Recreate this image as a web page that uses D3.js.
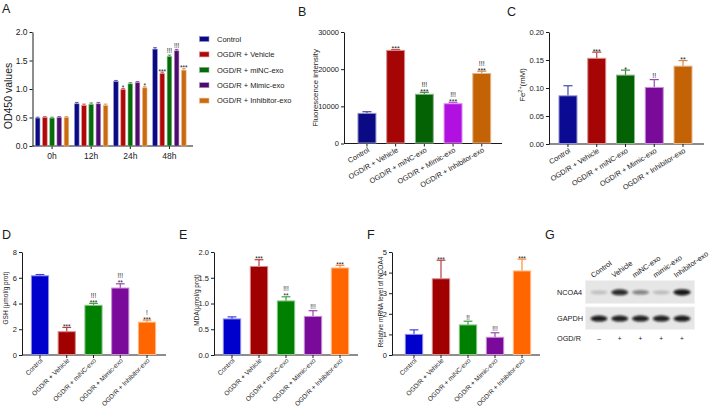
<!DOCTYPE html>
<html><head><meta charset="utf-8">
<script src="https://cdn.jsdelivr.net/npm/d3@7"></script>
<style>
body{margin:0;background:#fff}
svg{display:block}
text{font-family:"Liberation Sans",Arial,Helvetica,sans-serif;fill:#1a1a1a}
</style>
</head><body>
<svg id="c" width="719" height="414"></svg>
<script>
// ---------- DATA ----------
const groups = ["Control","OGD/R + Vehicle","OGD/R + miNC-exo","OGD/R + Mimic-exo","OGD/R + Inhibitor-exo"];
const timepoints = ["0h","12h","24h","48h"];

// Panel A: OD450 values (one array per group, across timepoints)
const odControl = [0.49, 0.74, 1.13, 1.70];
const odVehicle = [0.50, 0.71, 0.99, 1.27];
const odMiNC    = [0.49, 0.73, 1.09, 1.57];
const odMimic   = [0.50, 0.74, 1.11, 1.67];
const odInhib   = [0.50, 0.71, 1.02, 1.33];
const odErr     = [0.015, 0.025, 0.02, 0.025];
const odStars   = [["","","",""],["","","*","***"],["","","",""],["","","",""],["","","*","***"]];
const odExcl    = [["","","",""],["","","",""],["","","","!!!"],["","","","!!!"],["","","",""]];
const aTicks = [0, 0.5, 1.0, 1.5, 2.0];

// Panel B: fluorescence intensity
const fluorMean = [8100, 25050, 13250, 10700, 18850];
const fluorErr  = [450, 200, 520, 370, 600];
const fluorStars = ["", "***", "***", "***", "***"];
const fluorExcl  = ["", "", "!!!", "!!!", "!!!"];
const bTicks = [0, 10000, 20000, 30000];

// Panel C: Fe2+ (mM)
const feMean = [0.086, 0.153, 0.123, 0.101, 0.139];
const feErr  = [0.018, 0.011, 0.009, 0.014, 0.010];
const feStars = ["", "***", "*", "", "**"];
const feExcl  = ["", "", "", "!!", ""];
const cTicks = [0, 0.05, 0.10, 0.15, 0.20];

// Panel D: GSH
const gshMean = [6.15, 1.81, 3.86, 5.2, 2.55];
const gshErr  = [0.1, 0.33, 0.15, 0.33, 0.16];
const gshStars = ["", "***", "***", "**", "***"];
const gshExcl  = ["", "", "!!!", "!!!", "!"];
const dTicks = [0, 2, 4, 6, 8];

// Panel E: MDA
const mdaMean = [0.70, 1.72, 1.05, 0.75, 1.69];
const mdaErr  = [0.04, 0.13, 0.08, 0.11, 0.05];
const mdaStars = ["", "***", "**", "", "***"];
const mdaExcl  = ["", "", "!!!", "!!!", ""];
const eTicks = [0, 0.5, 1.0, 1.5, 2.0];

// Panel F: NCOA4 mRNA
const ncoaMean = [1.0, 3.7, 1.46, 0.86, 4.08];
const ncoaErr  = [0.22, 0.9, 0.18, 0.22, 0.57];
const ncoaStars = ["", "***", "", "", "***"];
const ncoaExcl  = ["", "", "!!", "!!!", ""];
const fTicks = [0, 1, 2, 3, 4, 5];

// Panel G: western blot
const blotLanes = ["Control", "Vehicle", "miNC-exo", "mimic-exo", "Inhibitor-exo"];
const blotOGDR  = ["–", "+", "+", "+", "+"];
const ncoa4Band = [0.18, 0.85, 0.45, 0.2, 0.95];
const gapdhBand = [0.92, 0.9, 0.9, 0.9, 0.92];

// colours
const colA = ["#0a0a85", "#b00808", "#046a0a", "#4e0a6e", "#cc6a10"];
const colB = ["#0a0a85", "#a50505", "#046204", "#b010e0", "#c46206"];
const colC = ["#0a0a92", "#a50505", "#046204", "#7a0a9a", "#c46206"];
const colD = ["#0000cc", "#a00000", "#008000", "#7a0a9a", "#ff6600"];

// ---------- DRAW ----------
const svg = d3.select("#c");
const light = (c, t) => d3.interpolateRgb(c, "#ffffff")(t);
const axisCol = "#1a1a1a";

function letter(t, x, y) {
  svg.append("text").attr("x", x).attr("y", y).attr("font-size", 12.5).text(t);
}

function styleAxis(g, fs) {
  g.select(".domain").attr("stroke", axisCol).attr("stroke-width", 1);
  g.selectAll(".tick line").attr("stroke", axisCol);
  g.selectAll(".tick text").attr("font-size", fs).attr("fill", axisCol)
    .attr("font-family", '"Liberation Sans",Arial,sans-serif');
}

function annot(g, cx, top, star, excl, fs) {
  if (star) g.append("text").attr("x", cx).attr("y", top + 1.6).attr("text-anchor", "middle")
    .attr("font-size", fs).text(star);
  if (excl) g.append("text").attr("x", cx).attr("y", top - (star ? 5.5 : 1.6)).attr("text-anchor", "middle")
    .attr("font-size", fs).text(excl);
}

function barPanel(o) {
  const g = svg.append("g");
  const y = d3.scaleLinear().domain([0, o.max]).range([o.yb, o.yt]);
  const x = d3.scaleBand().domain(groups).range([o.bx0, o.bx1])
    .paddingInner(o.pad).paddingOuter(o.pad / 2);
  const bw = x.bandwidth();
  const ya = g.append("g").attr("transform", `translate(${o.ax},0)`)
    .call(d3.axisLeft(y).tickValues(o.ticks).tickSize(3).tickSizeOuter(0).tickPadding(2).tickFormat(o.fmt));
  styleAxis(ya, o.tfs);
  g.append("line").attr("x1", o.ax).attr("x2", o.xe).attr("y1", o.yb).attr("y2", o.yb)
    .attr("stroke", axisCol).attr("stroke-width", 1);
  groups.forEach((k, i) => {
    const cx = x(k) + bw / 2;
    g.append("line").attr("x1", cx).attr("x2", cx).attr("y1", o.yb).attr("y2", o.yb + 3)
      .attr("stroke", axisCol);
    g.append("text").attr("text-anchor", "end").attr("font-size", o.cfs)
      .attr("transform", `translate(${cx + o.lx},${o.yb + o.ly}) rotate(${o.angle})`)
      .text(k);
    const v = o.mean[i], e = o.err[i], c = o.col[i];
    const ec = light(c, 0.25);
    g.append("line").attr("x1", cx).attr("x2", cx).attr("y1", y(v)).attr("y2", y(v + e))
      .attr("stroke", ec).attr("stroke-width", 1.2);
    g.append("line").attr("x1", cx - bw * 0.24).attr("x2", cx + bw * 0.24)
      .attr("y1", y(v + e)).attr("y2", y(v + e)).attr("stroke", ec).attr("stroke-width", 1.2);
    g.append("rect").attr("x", x(k) + 0.5).attr("y", y(v)).attr("width", bw - 1)
      .attr("height", o.yb - y(v) - 0.5).attr("fill", c)
      .attr("stroke", light(c, 0.55)).attr("stroke-width", 1);
    annot(g, cx, y(v + e), o.stars[i], o.excl[i], o.sfs);
  });
  const yl = g.append("text").attr("text-anchor", "middle").attr("font-size", o.yfs)
    .attr("transform", `translate(${o.ylx},${o.yly}) rotate(-90)`);
  if (o.ylabelFn) o.ylabelFn(yl); else yl.text(o.ylabel);
}

// ----- Panel A -----
(function () {
  const series = [odControl, odVehicle, odMiNC, odMimic, odInhib];
  const g = svg.append("g");
  const yb = 146, yt = 32, ax = 32.5;
  const y = d3.scaleLinear().domain([0, 2]).range([yb, yt]);
  const x0 = d3.scaleBand().domain(timepoints).range([32.5, 189]);
  const x1 = d3.scaleBand().domain(groups).range([0, x0.bandwidth() * 0.92]).paddingInner(0.36).paddingOuter(0.18);
  const off = x0.bandwidth() * 0.04;
  const ya = g.append("g").attr("transform", `translate(${ax},0)`)
    .call(d3.axisLeft(y).tickValues(aTicks).tickSize(3).tickSizeOuter(0).tickPadding(2).tickFormat(d3.format(".1f")));
  styleAxis(ya, 8.5);
  g.append("line").attr("x1", ax).attr("x2", 193).attr("y1", yb).attr("y2", yb).attr("stroke", axisCol);
  timepoints.forEach((t, j) => {
    const cx = x0(t) + x0.bandwidth() / 2;
    g.append("line").attr("x1", cx).attr("x2", cx).attr("y1", yb).attr("y2", yb + 3).attr("stroke", axisCol);
    g.append("text").attr("x", cx).attr("y", yb + 13).attr("text-anchor", "middle").attr("font-size", 8.5).text(t);
    groups.forEach((k, i) => {
      const v = series[i][j], e = odErr[j], c = colA[i];
      const bx = x0(t) + off + x1(k), bw = x1.bandwidth(), cxx = bx + bw / 2;
      const ec = light(c, 0.3);
      g.append("line").attr("x1", cxx).attr("x2", cxx).attr("y1", y(v)).attr("y2", y(v + e)).attr("stroke", ec);
      g.append("line").attr("x1", cxx - 1.8).attr("x2", cxx + 1.8).attr("y1", y(v + e)).attr("y2", y(v + e)).attr("stroke", ec);
      g.append("rect").attr("x", bx).attr("y", y(v)).attr("width", bw).attr("height", yb - y(v))
        .attr("fill", c).attr("stroke", light(c, 0.55)).attr("stroke-width", 0.6);
      annot(g, cxx, y(v + e), odStars[i][j], odExcl[i][j], 6.5);
    });
  });
  g.append("text").attr("text-anchor", "middle").attr("font-size", 10.5)
    .attr("transform", `translate(12,96) rotate(-90)`).text("OD450 values");
  const lg = g.append("g");
  groups.forEach((k, i) => {
    const ly = 39 + i * 15.4;
    lg.append("rect").attr("x", 199.5).attr("y", ly - 2.5).attr("width", 9.5).attr("height", 5)
      .attr("fill", colA[i]).attr("stroke", light(colA[i], 0.55)).attr("stroke-width", 0.6);
    lg.append("text").attr("x", 217).attr("y", ly + 2.7).attr("font-size", 7.5).text(k);
  });
})();
letter("A", 2, 13);

// ----- Panel B -----
barPanel({ ax: 344, xe: 502, yb: 143.5, yt: 32, max: 30000, ticks: bTicks, fmt: d3.format("d"),
  bx0: 352.6, bx1: 496.1, pad: 0.34, mean: fluorMean, err: fluorErr, stars: fluorStars, excl: fluorExcl,
  col: colB, angle: -30, lx: 3, ly: 8, tfs: 7.5, cfs: 7.3, sfs: 7, yfs: 7.8,
  ylabel: "Fluorescence intensity", ylx: 318, yly: 88 });
letter("B", 298, 16);

// ----- Panel C -----
barPanel({ ax: 549, xe: 704, yb: 144, yt: 32, max: 0.2, ticks: cTicks, fmt: d3.format(".2f"),
  bx0: 553.6, bx1: 697.4, pad: 0.34, mean: feMean, err: feErr, stars: feStars, excl: feExcl,
  col: colC, angle: -32, lx: 3, ly: 8, tfs: 7.5, cfs: 7.3, sfs: 7, yfs: 7.8,
  ylabelFn: t => { t.append("tspan").text("Fe"); t.append("tspan").attr("font-size", 5.5).attr("dy", -3).text("2+");
    t.append("tspan").attr("dy", 3).text("(mM)"); }, ylx: 525, yly: 85 });
letter("C", 507, 16);

// ----- Panel D -----
barPanel({ ax: 22, xe: 166, yb: 355, yt: 252, max: 8, ticks: dTicks, fmt: d3.format("d"),
  bx0: 26.6, bx1: 160.4, pad: 0.32, mean: gshMean, err: gshErr, stars: gshStars, excl: gshExcl,
  col: colD, angle: -45, lx: 3, ly: 6, tfs: 7.5, cfs: 6.5, sfs: 6.5, yfs: 6.5,
  ylabel: "GSH (μmol/g prot)", ylx: 8, yly: 298 });
letter("D", 2, 239);

// ----- Panel E -----
barPanel({ ax: 214, xe: 358, yb: 355, yt: 252, max: 2, ticks: eTicks, fmt: d3.format(".1f"),
  bx0: 218.5, bx1: 353.5, pad: 0.32, mean: mdaMean, err: mdaErr, stars: mdaStars, excl: mdaExcl,
  col: colD, angle: -45, lx: 3, ly: 6, tfs: 7.5, cfs: 6.5, sfs: 6.5, yfs: 6.5,
  ylabel: "MDA(μmol/g prot)", ylx: 199, yly: 300 });
letter("E", 179, 239);

// ----- Panel F -----
barPanel({ ax: 392, xe: 540, yb: 355, yt: 252, max: 5, ticks: fTicks, fmt: d3.format("d"),
  bx0: 400.5, bx1: 535.5, pad: 0.32, mean: ncoaMean, err: ncoaErr, stars: ncoaStars, excl: ncoaExcl,
  col: colD, angle: -45, lx: 3, ly: 6, tfs: 7.5, cfs: 6.5, sfs: 6.5, yfs: 6.5,
  ylabel: "Relative mRNA level of NCOA4", ylx: 383, yly: 302 });
letter("F", 367, 239);

// ----- Panel G: blot -----
(function () {
  const g = svg.append("g");
  const defs = svg.append("defs");
  defs.append("filter").attr("id", "blur").attr("x", "-30%").attr("y", "-100%").attr("width", "160%").attr("height", "300%")
    .append("feGaussianBlur").attr("stdDeviation", "1.1 0.9");
  const lx = d3.scalePoint().domain(blotLanes).range([599, 682]);
  const boxes = [{ y: 280.5, h: 23, data: ncoa4Band, name: "NCOA4" }, { y: 307, h: 22.5, data: gapdhBand, name: "GAPDH" }];
  boxes.forEach(b => {
    g.append("rect").attr("x", 585.5).attr("y", b.y).attr("width", 109).attr("height", b.h)
      .attr("fill", "#e6e6e6").attr("stroke", "#f2f2f2");
    g.append("text").attr("x", 557).attr("y", b.y + b.h / 2 + 2.6).attr("font-size", 7.3).text(b.name);
    blotLanes.forEach((l, i) => {
      const a = b.data[i];
      g.append("ellipse").attr("cx", lx(l)).attr("cy", b.y + b.h / 2 + 0.3).attr("rx", 8.5).attr("ry", 1.6 + 1.6 * a)
        .attr("fill", "#0c0c0c").attr("opacity", a).attr("filter", "url(#blur)");
    });
  });
  g.append("text").attr("x", 557).attr("y", 340.5).attr("font-size", 7.3).text("OGD/R");
  blotLanes.forEach((l, i) => {
    g.append("text").attr("x", lx(l)).attr("y", 340.5).attr("text-anchor", "middle").attr("font-size", 6.5)
      .attr("fill", "#555").text(blotOGDR[i]);
    g.append("text").attr("transform", `translate(${lx(l) - 6},278) rotate(-35)`).attr("font-size", 7.3).text(l);
  });
})();
letter("G", 545, 239);
</script>
</body></html>
